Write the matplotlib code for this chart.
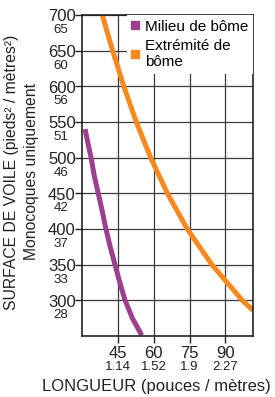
import matplotlib.pyplot as plt
from matplotlib.lines import Line2D

plt.rcParams["font.family"] = ["Liberation Sans", "DejaVu Sans"]

# curve readings (longueur in pouces, surface in sq ft)
mid_len = [31.3, 32.5, 33.8, 35.1, 36.8, 38.4, 40.0, 41.8, 43.8, 45.8, 48.0, 51.2, 55.0]
mid_area = [540, 520, 500, 475, 450, 426, 400, 375, 350, 325, 300, 274, 251]
end_len = [38.5, 42.8, 47.5, 52.7, 58.7, 65.7, 74.0, 84.3, 97.0, 101.5]
end_area = [700, 650, 600, 550, 500, 450, 400, 350, 300, 286]

y_ticks = [700, 650, 600, 550, 500, 450, 400, 350, 300]
y_metric = ["65", "60", "56", "51", "46", "42", "37", "33", "28"]
x_ticks = [45, 60, 75, 90]
x_metric = ["1.14", "1.52", "1.9", "2.27"]

purple = "#9c3f8f"
orange = "#f7891f"
ink = "#222222"

fig = plt.figure(figsize=(2.75, 3.97), dpi=100)
ax = fig.add_axes([82 / 275, 1 - 336 / 397, 171 / 275, 321 / 397])

ax.plot(mid_len, mid_area, color=purple, lw=3.6, solid_capstyle="butt",
        solid_joinstyle="round")
ax.plot(end_len, end_area, color=orange, lw=3.6, solid_capstyle="butt",
        solid_joinstyle="round")

ax.set_xlim(30, 101.5)
ax.set_ylim(250, 700)
ax.set_xticks(x_ticks)
ax.set_yticks(y_ticks)
ax.set_xticklabels([])
ax.set_yticklabels([])
ax.grid(True, color="#3a3a3a", lw=0.9)
ax.set_axisbelow(True)
ax.tick_params(direction="out", length=5, width=1, color=ink)
for s in ax.spines.values():
    s.set_color(ink)
    s.set_linewidth(1.2)

# two-line tick labels (imperial / metric)
for v, m in zip(y_ticks, y_metric):
    ax.annotate(str(v), xy=(0, v), xycoords=("axes fraction", "data"),
                xytext=(-20, -2), textcoords="offset pixels",
                ha="center", va="center", fontsize=12, color=ink)
    ax.annotate(m, xy=(0, v), xycoords=("axes fraction", "data"),
                xytext=(-21, -15), textcoords="offset pixels",
                ha="center", va="center", fontsize=9.5, color=ink)
for v, m in zip(x_ticks, x_metric):
    ax.annotate(str(v), xy=(v, 0), xycoords=("data", "axes fraction"),
                xytext=(0, -18), textcoords="offset pixels",
                ha="center", va="center", fontsize=12, color=ink)
    ax.annotate(m, xy=(v, 0), xycoords=("data", "axes fraction"),
                xytext=(0, -31), textcoords="offset pixels",
                ha="center", va="center", fontsize=9.5, color=ink)

fig.text(12 / 275, 1 - 172 / 397, "SURFACE DE VOILE (pieds² / mètres²)",
         rotation=90, ha="center", va="center", fontsize=11.3, color=ink)
fig.text(32 / 275, 1 - 172 / 397, "Monocoques uniquement",
         rotation=90, ha="center", va="center", fontsize=11.3, color=ink)
fig.text(156 / 275, 1 - 386 / 397, "LONGUEUR (pouces / mètres)",
         ha="center", va="center", fontsize=12, color=ink)

handles = [
    Line2D([], [], ls="none", marker="s", ms=6, color=purple),
    Line2D([], [], ls="none", marker="s", ms=6, color=orange),
]
leg = ax.legend(handles, ["Milieu de bôme", "Extrémité de\nbôme"],
                loc="upper right", borderaxespad=0, frameon=True,
                fancybox=False, fontsize=11, handlelength=0.5,
                handletextpad=0.4, labelspacing=0.35, borderpad=0.3)
leg.get_frame().set_facecolor("white")
leg.get_frame().set_edgecolor("none")
leg.get_frame().set_alpha(1)

fig.savefig("out.png", dpi=100)
